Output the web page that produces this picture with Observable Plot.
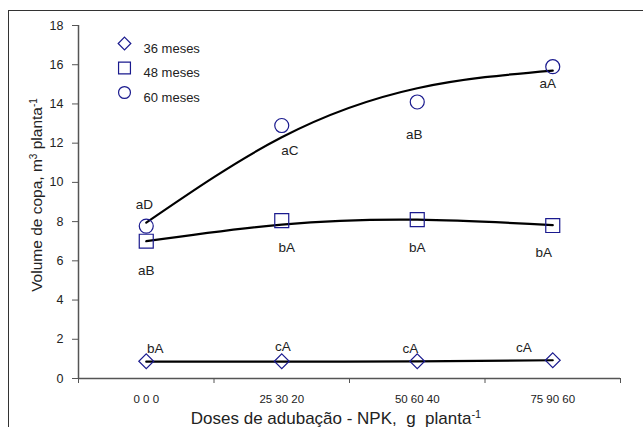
<!DOCTYPE html>
<html><head><meta charset="utf-8">
<script src="https://cdn.jsdelivr.net/npm/d3@7"></script>
<script src="https://cdn.jsdelivr.net/npm/@observablehq/plot@0.6"></script>
<style>
html,body{margin:0;padding:0;background:#fff;overflow:hidden;width:643px;height:427px;}
#chart{position:absolute;left:0;top:0;}
#frame{position:absolute;left:8px;top:10px;width:700px;height:500px;border:1.5px solid #333;box-sizing:border-box;pointer-events:none;}
</style></head><body>
<div id="chart"></div><div id="frame"></div>
<script>
// ---- data ----
const doses = ["0 0 0", "25 30 20", "50 60 40", "75 90 60"];
const seriesNames = ["36 meses", "48 meses", "60 meses"];
const obs36 = [0.88, 0.88, 0.88, 0.93];
const obs48 = [7.0, 8.05, 8.1, 7.8];
const obs60 = [7.77, 12.9, 14.1, 15.9];
const fit36 = [0.86, 0.86, 0.87, 0.93];
const fit48 = [7.0, 7.85, 8.1, 7.82];
const fit60 = [7.95, 12.3, 14.8, 15.7];
const letters36 = ["bA", "cA", "cA", "cA"];
const letters48 = ["aB", "bA", "bA", "bA"];
const letters60 = ["aD", "aC", "aB", "aA"];
const yTicks = [0, 2, 4, 6, 8, 10, 12, 14, 16, 18];

// ---- layout / style ----
const navy = "#1a1a8e";
const series = [
  {obs: obs36, fit: fit36, letters: letters36, symbol: "diamond2", r: 6.7,
   dx: [9, 1, -7, -29], dy: [-13, -15, -13, -13]},
  {obs: obs48, fit: fit48, letters: letters48, symbol: "square2", r: 8.9,
   dx: [0, 5, 0, -9], dy: [29, 27, 28, 27]},
  {obs: obs60, fit: fit60, letters: letters60, symbol: "circle", r: 7,
   dx: [-2, 8, -3, -5], dy: [-21, 25, 33, 17]}
];
const idx = doses.map((d, i) => i);

const marks = [
  Plot.axisY({ticks: yTicks, tickSize: 6, tickPadding: 9, stroke: "#555", fill: "#222", fontSize: 12.5, label: null}),
  Plot.axisX({ticks: [-0.5, 0.5, 1.5, 2.5, 3.5], tickSize: 5, stroke: "#555", tickFormat: () => "", label: null}),
  Plot.axisX({ticks: idx, tickSize: 0, tickPadding: 16, fill: "#222", fontSize: 11.5, tickFormat: i => doses[i], label: null}),
  Plot.ruleY([0], {stroke: "#555", strokeWidth: 1.5}),
  Plot.ruleX([-0.5], {stroke: "#555", strokeWidth: 1.5})
];
series.forEach(s => {
  marks.push(Plot.line(idx, {x: i => i, y: i => s.fit[i], curve: "natural", stroke: "#000", strokeWidth: 2.2}));
  marks.push(Plot.dot(idx, {x: i => i, y: i => s.obs[i], symbol: () => s.symbol, r: s.r, stroke: navy, strokeWidth: 1.2, fill: "none"}));
  idx.forEach(i => {
    marks.push(Plot.text([i], {x: d => d, y: d => s.obs[d], text: d => s.letters[d], dx: s.dx[i], dy: s.dy[i], fontSize: 13.5, fill: "#222"}));
  });
});
// legend
series.forEach((s, k) => {
  marks.push(Plot.dot([k], {frameAnchor: "top-left", dx: 46, dy: 18 + k * 24.5, symbol: () => s.symbol, r: s.r * 0.85, stroke: navy, strokeWidth: 1.2, fill: "none"}));
  marks.push(Plot.text([seriesNames[k]], {frameAnchor: "top-left", dx: 65, dy: 18 + k * 24.5, text: d => d, textAnchor: "start", fontSize: 13, fill: "#222"}));
});

const chart = Plot.plot({
  width: 643, height: 427,
  marginLeft: 78, marginRight: 23, marginTop: 25, marginBottom: 49,
  x: {domain: [-0.5, 3.5]},
  y: {domain: [0, 18]},
  style: {fontFamily: "'Liberation Sans', Arial, sans-serif", background: "transparent", color: "#222"},
  marks
});
document.getElementById("chart").appendChild(chart);

// axis titles with superscripts
const svg = d3.select(chart);
const yt = svg.append("text")
  .attr("transform", "translate(42,195) rotate(-90)")
  .attr("text-anchor", "middle").attr("fill", "#222")
  .style("font-size", "15.5px").style("font-family", "'Liberation Sans', Arial, sans-serif");
yt.append("tspan").text("Volume de copa, m");
yt.append("tspan").attr("baseline-shift", "super").style("font-size", "10px").text("3");
yt.append("tspan").text(" planta");
yt.append("tspan").attr("baseline-shift", "super").style("font-size", "10px").text("-1");

const xt = svg.append("text")
  .attr("x", 336).attr("y", 423.5)
  .attr("text-anchor", "middle").attr("fill", "#222")
  .style("font-size", "17px").style("font-family", "'Liberation Sans', Arial, sans-serif")
  .attr("xml:space", "preserve");
xt.append("tspan").text("Doses de adubação - NPK,  g  planta");
xt.append("tspan").attr("baseline-shift", "super").style("font-size", "11px").text("-1");
</script>
</body></html>
